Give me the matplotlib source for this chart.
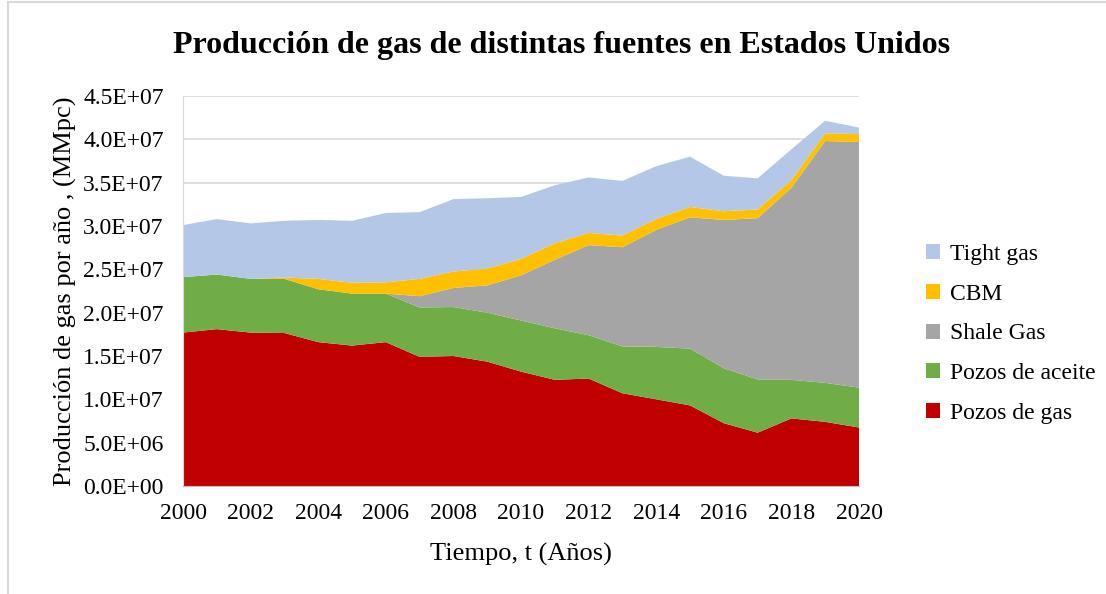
import matplotlib.pyplot as plt
from matplotlib.ticker import FuncFormatter, MultipleLocator
from matplotlib.lines import Line2D

years = list(range(2000, 2021))

# valores (en 1E7 MMpc)
pozos_gas = [1.77, 1.81, 1.77, 1.765, 1.66, 1.62, 1.66, 1.49, 1.50, 1.435, 1.32,
             1.225, 1.24, 1.07, 1.00, 0.93, 0.725, 0.615, 0.78, 0.74, 0.675]
pozos_aceite = [0.64, 0.63, 0.62, 0.625, 0.61, 0.60, 0.56, 0.57, 0.565, 0.565, 0.59,
                0.595, 0.50, 0.54, 0.605, 0.655, 0.635, 0.615, 0.445, 0.45, 0.46]
shale = [0, 0, 0, 0, 0, 0, 0, 0.13, 0.22, 0.315, 0.52,
         0.79, 1.04, 1.145, 1.35, 1.515, 1.71, 1.86, 2.215, 2.79, 2.835]
cbm = [0, 0, 0, 0.015, 0.12, 0.125, 0.13, 0.20, 0.19, 0.195, 0.19,
       0.19, 0.14, 0.135, 0.125, 0.12, 0.10, 0.10, 0.09, 0.09, 0.09]
tight = [0.60, 0.64, 0.64, 0.655, 0.68, 0.715, 0.80, 0.77, 0.835, 0.81, 0.715,
         0.67, 0.64, 0.63, 0.61, 0.58, 0.41, 0.36, 0.355, 0.145, 0.075]

series = [pozos_gas, pozos_aceite, shale, cbm, tight]
labels = ['Pozos de gas', 'Pozos de aceite', 'Shale Gas', 'CBM', 'Tight gas']
colors = ['#c00000', '#70ad47', '#a5a5a5', '#ffc000', '#b4c7e7']

plt.rcParams['font.family'] = ['Liberation Serif', 'DejaVu Serif']

fig = plt.figure(figsize=(11.06, 5.94), dpi=100)
ax = fig.add_axes([183 / 1106, 1 - 486 / 594, (859 - 183) / 1106, (486 - 96) / 594])

data = [[v * 1e7 for v in s] for s in series]
polys = ax.stackplot(years, *data, colors=colors, labels=labels, linewidth=0)

ax.set_xlim(2000, 2020)
ax.set_ylim(0, 4.5e7)
ax.xaxis.set_major_locator(MultipleLocator(2))
ax.yaxis.set_major_locator(MultipleLocator(5e6))
ax.yaxis.set_major_formatter(FuncFormatter(lambda v, p: '%.1E' % v))
ax.grid(axis='y', color='#d9d9d9', linewidth=1.2)
ax.set_axisbelow(True)
for s in ['top', 'right']:
    ax.spines[s].set_visible(False)
ax.spines['left'].set_color('#d9d9d9')
ax.spines['bottom'].set_color('#bfbfbf')
ax.tick_params(length=0, labelsize=17)
ax.tick_params(axis='y', pad=14)
ax.tick_params(axis='x', pad=12)

ax.set_xlabel('Tiempo, t (Años)', fontsize=19, labelpad=14)
ax.set_ylabel('Producción de gas por año , (MMpc)', fontsize=19, labelpad=4)
fig.text(0.5 * (175 + 948) / 1106, 1 - 45 / 594,
         'Producción de gas de distintas fuentes en Estados Unidos',
         fontsize=23, fontweight='bold', ha='center', va='center')

handles, labs = ax.get_legend_handles_labels()
leg = ax.legend(handles[::-1], labs[::-1], loc='center left',
                bbox_to_anchor=(1.085, 0.39), borderaxespad=0, frameon=False,
                fontsize=17, handlelength=0.6, handleheight=0.6,
                handletextpad=0.4, labelspacing=0.8)

# marco de la imagen
fig.add_artist(Line2D([8 / 1106, 8 / 1106], [0, 1 - 2 / 594], color='#d9d9d9', lw=1.5))
fig.add_artist(Line2D([8 / 1106, 1], [1 - 2 / 594, 1 - 2 / 594], color='#d9d9d9', lw=1.5))

fig.savefig('out.png', dpi=100)
